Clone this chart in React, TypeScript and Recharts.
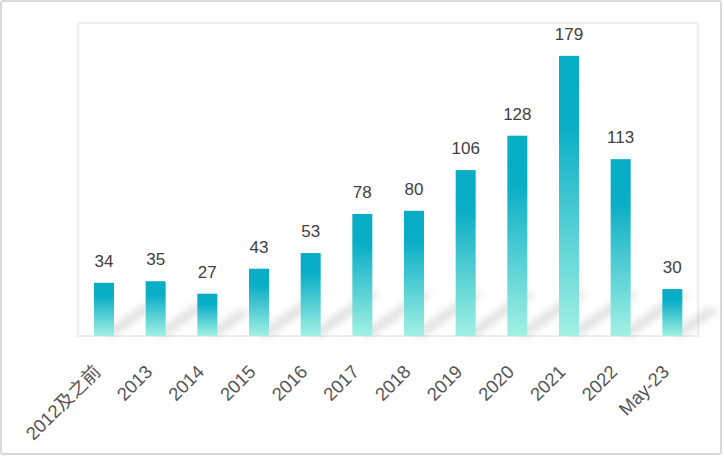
import React from 'react'
import { BarChart, Bar, XAxis, YAxis, LabelList, ReferenceArea } from 'recharts'

const years = ['2012及之前', '2013', '2014', '2015', '2016', '2017', '2018', '2019', '2020', '2021', '2022', 'May-23']
const counts = [34, 35, 27, 43, 53, 78, 80, 106, 128, 179, 113, 30]

const data = years.map((year, i) => ({ year, count: counts[i] }))

const FONT = '"Liberation Sans", Arial, Helvetica, "Noto Sans CJK SC", sans-serif'

function ShadowBar(props: any) {
  const { x, y, width, height } = props
  if (!height || height <= 0) return null
  const bottom = y + height
  const dx = Math.min(60, height * 0.8)
  const dy = -dx * 0.7
  const pts = [
    [x + width * 0.4, bottom - 1],
    [x + width, bottom - 1],
    [x + width + dx, bottom - 1 + dy],
    [x + width * 0.4 + dx, bottom - 1 + dy],
  ]
    .map((p) => p.join(','))
    .join(' ')
  return (
    <g>
      <polygon points={pts} fill="#000" opacity={0.16} filter="url(#shadowBlur)" />
      <rect x={x} y={y} width={width} height={height} fill="url(#barGrad)" />
    </g>
  )
}

function YearTick({ x, y, payload }: any) {
  return (
    <g transform={`translate(${x - 2},${y + 29}) rotate(-45)`}>
      <text x={0} y={0} textAnchor="end" fill="#555" fontSize={18.5} fontFamily={FONT}>
        {payload.value}
      </text>
    </g>
  )
}

export default function App() {
  return (
    <div style={{ position: 'relative', width: 724, height: 456, background: '#fff' }}>
      <style>{'body{margin:0}'}</style>
      <BarChart
        width={724}
        height={456}
        data={data}
        margin={{ top: 23, right: 26, left: 78, bottom: 0 }}
        barSize={20}
      >
        <defs>
          <linearGradient id="barGrad" x1="0" y1="0" x2="0" y2="1">
            <stop offset="0%" stopColor="#06adc5" />
            <stop offset="25%" stopColor="#0aaec6" />
            <stop offset="100%" stopColor="#a2f1e3" />
          </linearGradient>
          <filter id="shadowBlur" x="-50%" y="-50%" width="200%" height="200%">
            <feGaussianBlur stdDeviation="4" />
          </filter>
        </defs>
        <ReferenceArea y1={0} y2={200} fill="none" stroke="#eeeeee" strokeWidth={2} />
        <XAxis
          dataKey="year"
          axisLine={false}
          tickLine={false}
          interval={0}
          height={120}
          tick={<YearTick />}
        />
        <YAxis hide domain={[0, 200]} />
        <Bar dataKey="count" shape={<ShadowBar />} isAnimationActive={false}>
          <LabelList
            dataKey="count"
            position="top"
            offset={16}
            fill="#404040"
            fontSize={17}
            fontFamily={FONT}
          />
        </Bar>
      </BarChart>
      <div
        style={{
          position: 'absolute',
          left: 0,
          top: 0,
          width: 722,
          height: 455,
          boxSizing: 'border-box',
          border: '2px solid #d9d9d9',
          borderRadius: 3,
          pointerEvents: 'none',
        }}
      />
    </div>
  )
}
